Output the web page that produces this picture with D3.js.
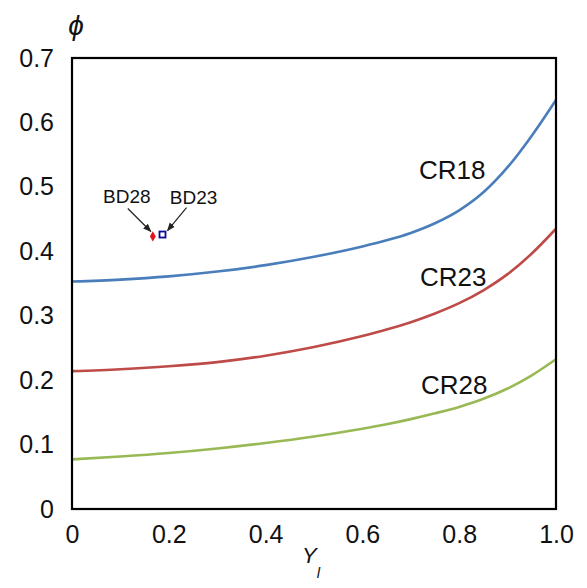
<!DOCTYPE html>
<html>
<head>
<meta charset="utf-8">
<script src="https://cdn.jsdelivr.net/npm/d3@7/dist/d3.min.js"></script>
<style>
  html, body { margin: 0; padding: 0; background: #fff; }
  svg text { font-family: "Liberation Sans", Arial, sans-serif; fill: #111; }
</style>
</head>
<body>
<svg id="chart" width="587" height="588"></svg>
<script>
// ---- data ----
const yl   = [0, 0.1, 0.2, 0.3, 0.4, 0.5, 0.6, 0.65, 0.7, 0.75, 0.8, 0.85, 0.9, 0.95, 1.0];
const cr18 = [0.353, 0.356, 0.361, 0.3685, 0.3785, 0.3915, 0.4075, 0.417, 0.4285, 0.4435, 0.4635, 0.4915, 0.5305, 0.5795, 0.635];
const cr23 = [0.214, 0.217, 0.2215, 0.228, 0.238, 0.2515, 0.2685, 0.2785, 0.290, 0.3035, 0.3195, 0.3395, 0.3645, 0.3965, 0.435];
const cr28 = [0.077, 0.0815, 0.087, 0.094, 0.1025, 0.1125, 0.1245, 0.1315, 0.1395, 0.1485, 0.1585, 0.1710, 0.1870, 0.2075, 0.2325];
const seriesNames = ["CR18", "CR23", "CR28"];
const seriesColors = ["#4a7ebb", "#be4b48", "#98b954"];
const labelAt = [0.717, 0.719, 0.721];       // Y_l position of the series label (start)
const labelVal = [0.512, 0.346, 0.178];      // phi position of the series label baseline
const bdNames = ["BD28", "BD23"];
const bdX = [0.167, 0.187];
const bdY = [0.423, 0.426];
const xTicks = [0, 0.2, 0.4, 0.6, 0.8, 1.0];
const xTickLabels = ["0", "0.2", "0.4", "0.6", "0.8", "1.0"];
const yTicks = [0, 0.1, 0.2, 0.3, 0.4, 0.5, 0.6, 0.7];
const yTickLabels = ["0", "0.1", "0.2", "0.3", "0.4", "0.5", "0.6", "0.7"];

// ---- layout ----
const svg = d3.select("#chart");
const L = 72, R = 556, T = 58, B = 509;
const x = d3.scaleLinear().domain([0, 1]).range([L, R]);
const y = d3.scaleLinear().domain([0, 0.7]).range([B, T]);

// defs: arrow marker
svg.append("defs").append("marker")
  .attr("id", "arr").attr("viewBox", "0 0 10 10").attr("refX", 9).attr("refY", 5)
  .attr("markerWidth", 7).attr("markerHeight", 7).attr("orient", "auto")
  .append("path").attr("d", "M0,1 L10,5 L0,9 Z").attr("fill", "#222");

// axes (labels only, no tick marks)
const xAxis = d3.axisBottom(x).tickValues(xTicks).tickFormat((d, i) => xTickLabels[i]).tickSize(0).tickPadding(16);
const yAxis = d3.axisLeft(y).tickValues(yTicks).tickFormat((d, i) => yTickLabels[i]).tickSize(0).tickPadding(18);
const gx = svg.append("g").attr("transform", `translate(0,${B})`).call(xAxis);
const gy = svg.append("g").attr("transform", `translate(${L},0)`).call(yAxis);
[gx, gy].forEach(g => {
  g.select(".domain").remove();
  g.selectAll("text").attr("font-size", 25).attr("fill", "#111")
    .style("font-family", "'Liberation Sans', Arial, sans-serif");
});

// lines
const line = d3.line().x((d, i) => x(yl[i])).y(d => y(d)).curve(d3.curveMonotoneX);
[cr18, cr23, cr28].forEach((s, k) => {
  svg.append("path").datum(s).attr("d", line)
    .attr("fill", "none").attr("stroke", seriesColors[k]).attr("stroke-width", 2.6);
  svg.append("text").attr("x", x(labelAt[k])).attr("y", y(labelVal[k]))
    .attr("font-size", 26).text(seriesNames[k]);
});

// frame
svg.append("rect").attr("x", L).attr("y", T).attr("width", R - L).attr("height", B - T)
  .attr("fill", "none").attr("stroke", "#000").attr("stroke-width", 2.2);

// BD points
const sym = d3.symbol();
svg.append("path")
  .attr("transform", `translate(${x(bdX[0])},${y(bdY[0])})`)
  .attr("d", sym.type(d3.symbolDiamond).size(30)())
  .attr("fill", "#e0141e");
svg.append("rect")
  .attr("x", x(bdX[1]) - 3).attr("y", y(bdY[1]) - 3).attr("width", 6).attr("height", 6)
  .attr("fill", "#fff").attr("stroke", "#0a0a96").attr("stroke-width", 1.8);

// BD labels and arrows
svg.append("text").attr("x", x(bdX[0]) - 26).attr("y", y(bdY[0]) - 33)
  .attr("text-anchor", "middle").attr("font-size", 19).text(bdNames[0]);
svg.append("text").attr("x", x(bdX[1]) + 31).attr("y", y(bdY[1]) - 31)
  .attr("text-anchor", "middle").attr("font-size", 19).text(bdNames[1]);
svg.append("line")
  .attr("x1", x(bdX[0]) - 25).attr("y1", y(bdY[0]) - 28)
  .attr("x2", x(bdX[0]) - 2).attr("y2", y(bdY[0]) - 5)
  .attr("stroke", "#222").attr("stroke-width", 1.2).attr("marker-end", "url(#arr)");
svg.append("line")
  .attr("x1", x(bdX[1]) + 24).attr("y1", y(bdY[1]) - 27)
  .attr("x2", x(bdX[1]) + 5).attr("y2", y(bdY[1]) - 4)
  .attr("stroke", "#222").attr("stroke-width", 1.2).attr("marker-end", "url(#arr)");

// axis titles
svg.append("text").attr("x", 76).attr("y", 35).attr("text-anchor", "middle")
  .attr("font-size", 28).attr("font-style", "italic").text("\u03D5");
const yt = svg.append("text").attr("x", 302).attr("y", 563).attr("font-size", 22).attr("font-style", "italic");
yt.append("tspan").text("Y");
yt.append("tspan").attr("font-size", 15).attr("dy", 15).text("l");
</script>
</body>
</html>
